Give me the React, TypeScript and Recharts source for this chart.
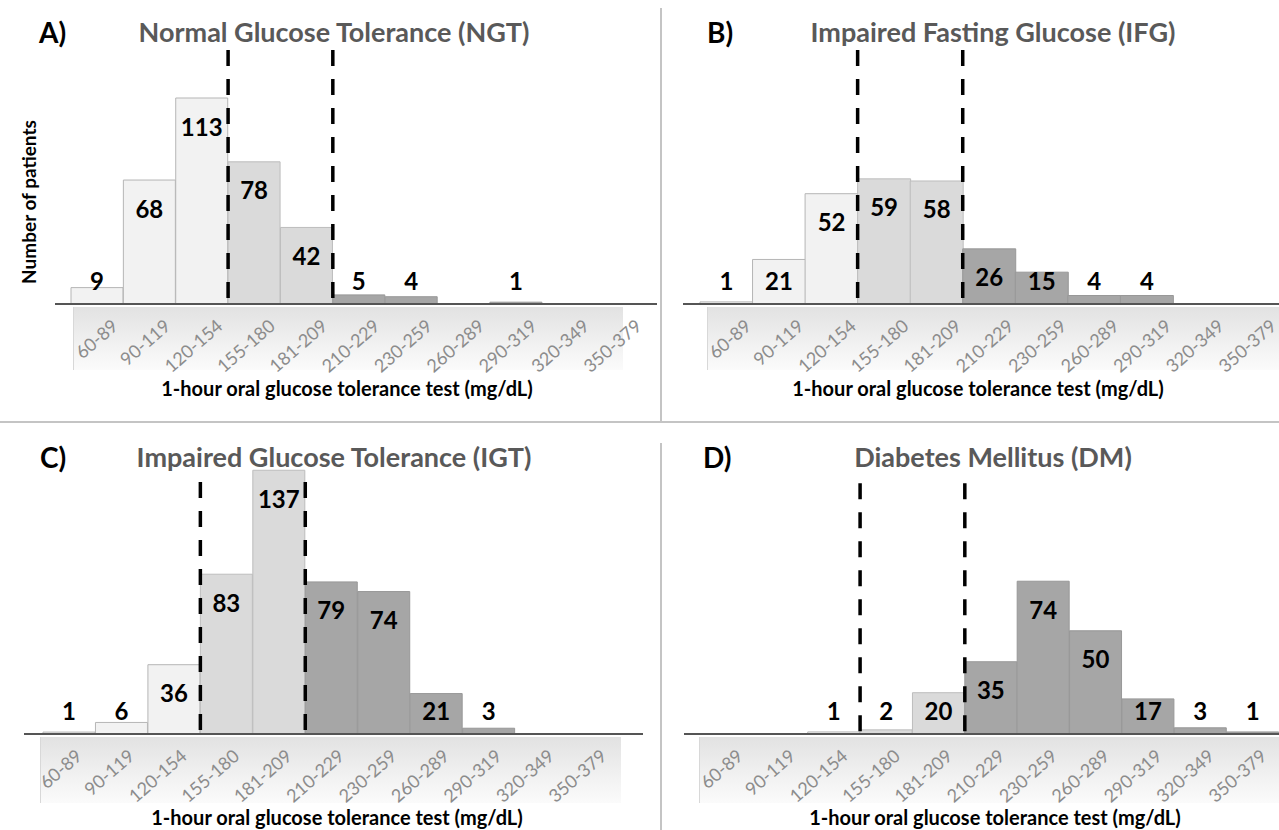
import React from 'react';
import { BarChart, Bar, XAxis, YAxis, Cell, LabelList, ReferenceLine } from 'recharts';

// 1-hour OGTT ranges (mg/dL)
const ranges = ['60-89', '90-119', '120-154', '155-180', '181-209', '210-229', '230-259', '260-289', '290-319', '320-349', '350-379'];

// patients per range, one list per group
const ngtCounts = [9, 68, 113, 78, 42, 5, 4, 0, 1, 0, 0];
const ifgCounts = [1, 21, 52, 59, 58, 26, 15, 4, 4, 0, 0];
const igtCounts = [1, 6, 36, 83, 137, 79, 74, 21, 3, 0, 0];
const dmCounts = [0, 0, 1, 2, 20, 35, 74, 50, 17, 3, 1];

// the two cut-offs drawn as dashed lines (left edge of these ranges)
const lowCut = '155-180';
const highCut = '210-229';

const FONT = 'Lato, "Open Sans", sans-serif';
const xTitle = '1-hour oral glucose tolerance test (mg/dL)';

function shade(i: number) {
  if (i < 3) return { fill: '#f2f2f2', stroke: '#b5b5b5' };
  if (i < 5) return { fill: '#dadada', stroke: '#bdbdbd' };
  return { fill: '#a6a6a6', stroke: '#989898' };
}

function CountLabel(props: any) {
  const { x, y, width, height, value } = props;
  if (!value) return null;
  const cy = Math.min(y + 28, y + height - 24);
  return (
    <text x={x + width / 2} y={cy} textAnchor="middle" dominantBaseline="central"
      fontFamily={FONT} fontWeight={700} fontSize={24} fill="#000">
      {value}
    </text>
  );
}

function RangeTick(props: any) {
  const { x, y, payload, shift } = props;
  const tx = x + shift;
  const ty = y + 24;
  return (
    <text x={tx} y={ty} textAnchor="end" transform={`rotate(-41 ${tx} ${ty})`}
      fontFamily={FONT} fontSize={18} fill="#8c8c8c">
      {payload.value}
    </text>
  );
}

type PanelProps = {
  letter: string;
  title: string;
  counts: number[];
  left: number; top: number; width: number; height: number;
  axisY: number;
  margin: { top: number; right: number; left: number };
  pad: { left: number; right: number };
  yMax: number;
  dashTop: number;
  tickShift: number;
  letterX: number; titleX: number; titleY: number;
  xTitleX: number; xTitleY: number;
  box: { x: number; y: number; w: number; h: number };
};

function Panel(p: PanelProps) {
  const data = ranges.map((r, i) => ({ range: r, count: p.counts[i] }));
  return (
    <>
      <div style={{
        position: 'absolute', left: p.box.x, top: p.box.y, width: p.box.w, height: p.box.h,
        background: 'linear-gradient(#e2e2e2, #f4f4f4 70%, #fbfbfb)', borderLeft: '1px solid #d8d8d8',
      }} />
      <div style={{ position: 'absolute', left: p.left, top: p.top }}>
        <BarChart width={p.width} height={p.height} data={data} barCategoryGap={0}
          margin={{ top: p.margin.top, right: p.margin.right, left: p.margin.left, bottom: 0 }}>
          <XAxis dataKey="range" height={p.height - p.axisY}
            padding={p.pad} tickSize={0} tickMargin={0} interval={0}
            axisLine={{ stroke: '#555', strokeWidth: 2 }} tickLine={false}
            tick={(t: any) => <RangeTick {...t} shift={p.tickShift} />} />
          <YAxis hide domain={[0, p.yMax]} />
          <Bar dataKey="count" isAnimationActive={false}>
            {data.map((d, i) => (
              <Cell key={d.range} fill={shade(i).fill} stroke={shade(i).stroke} strokeWidth={1} />
            ))}
            <LabelList dataKey="count" content={<CountLabel />} />
          </Bar>
          {[lowCut, highCut].map((c) => (
            <ReferenceLine key={c} position="start"
              segment={[{ x: c, y: p.dashTop }, { x: c, y: 0 }]}
              stroke="#000" strokeWidth={3.5} strokeDasharray="16 13" />
          ))}
        </BarChart>
      </div>
      <div style={{
        position: 'absolute', left: p.letterX, top: p.titleY - 18, fontFamily: FONT,
        fontWeight: 700, fontSize: 28, color: '#000', lineHeight: '36px',
      }}>{p.letter}</div>
      <div style={{
        position: 'absolute', left: p.titleX - 300, width: 600, top: p.titleY - 18, textAlign: 'center',
        fontFamily: FONT, fontWeight: 700, fontSize: 27, color: '#595959', lineHeight: '36px',
      }}>{p.title}</div>
      <div style={{
        position: 'absolute', left: p.xTitleX - 250, width: 500, top: p.xTitleY - 13, textAlign: 'center',
        fontFamily: FONT, fontWeight: 700, fontSize: 20, color: '#000', lineHeight: '26px',
      }}>{xTitle}</div>
    </>
  );
}

export default function App() {
  return (
    <div style={{ position: 'absolute', left: 0, top: 0, width: 1279, height: 830, background: '#fff', overflow: 'hidden' }}>
      {/* panel dividers */}
      <div style={{ position: 'absolute', left: 660, top: 8, width: 2, height: 414, background: '#c4c4c4' }} />
      <div style={{ position: 'absolute', left: 660, top: 443, width: 2, height: 387, background: '#c4c4c4' }} />
      <div style={{ position: 'absolute', left: 0, top: 421, width: 1279, height: 2, background: '#c4c4c4' }} />

      <Panel letter="A)" title="Normal Glucose Tolerance (NGT)" counts={ngtCounts}
        left={0} top={0} width={661} height={421} axisY={304}
        margin={{ top: 24, right: 4, left: 55 }} pad={{ left: 16, right: 10 }}
        yMax={153.6} dashTop={139.3} tickShift={22}
        letterX={39} titleX={334} titleY={32} xTitleX={347} xTitleY={388}
        box={{ x: 73, y: 307, w: 549, h: 63 }} />
      <Panel letter="B)" title="Impaired Fasting Glucose (IFG)" counts={ifgCounts}
        left={661} top={0} width={618} height={421} axisY={304}
        margin={{ top: 24, right: 0, left: 22 }} pad={{ left: 17, right: 1 }}
        yMax={132} dashTop={119.8} tickShift={26}
        letterX={707} titleX={993} titleY={32} xTitleX={978} xTitleY={388}
        box={{ x: 707, y: 307, w: 572, h: 63 }} />
      <Panel letter="C)" title="Impaired Glucose Tolerance (IGT)" counts={igtCounts}
        left={0} top={422} width={661} height={408} axisY={312}
        margin={{ top: 24, right: 18, left: 24 }} pad={{ left: 19, right: 23 }}
        yMax={149.6} dashTop={130.9} tickShift={14}
        letterX={40} titleX={334} titleY={457} xTitleX={337} xTitleY={817}
        box={{ x: 40, y: 737, w: 580, h: 66 }} />
      <Panel letter="D)" title="Diabetes Mellitus (DM)" counts={dmCounts}
        left={661} top={422} width={618} height={408} axisY={312}
        margin={{ top: 24, right: 0, left: 23 }} pad={{ left: 19, right: 0 }}
        yMax={139.5} dashTop={121.5} tickShift={15}
        letterX={703} titleX={993} titleY={457} xTitleX={995} xTitleY={817}
        box={{ x: 699, y: 737, w: 580, h: 66 }} />

      <div style={{
        position: 'absolute', left: 28, top: 202, transform: 'translate(-50%, -50%) rotate(-90deg)',
        whiteSpace: 'nowrap', fontFamily: FONT, fontWeight: 700, fontSize: 19, color: '#000',
      }}>Number of patients</div>
    </div>
  );
}
